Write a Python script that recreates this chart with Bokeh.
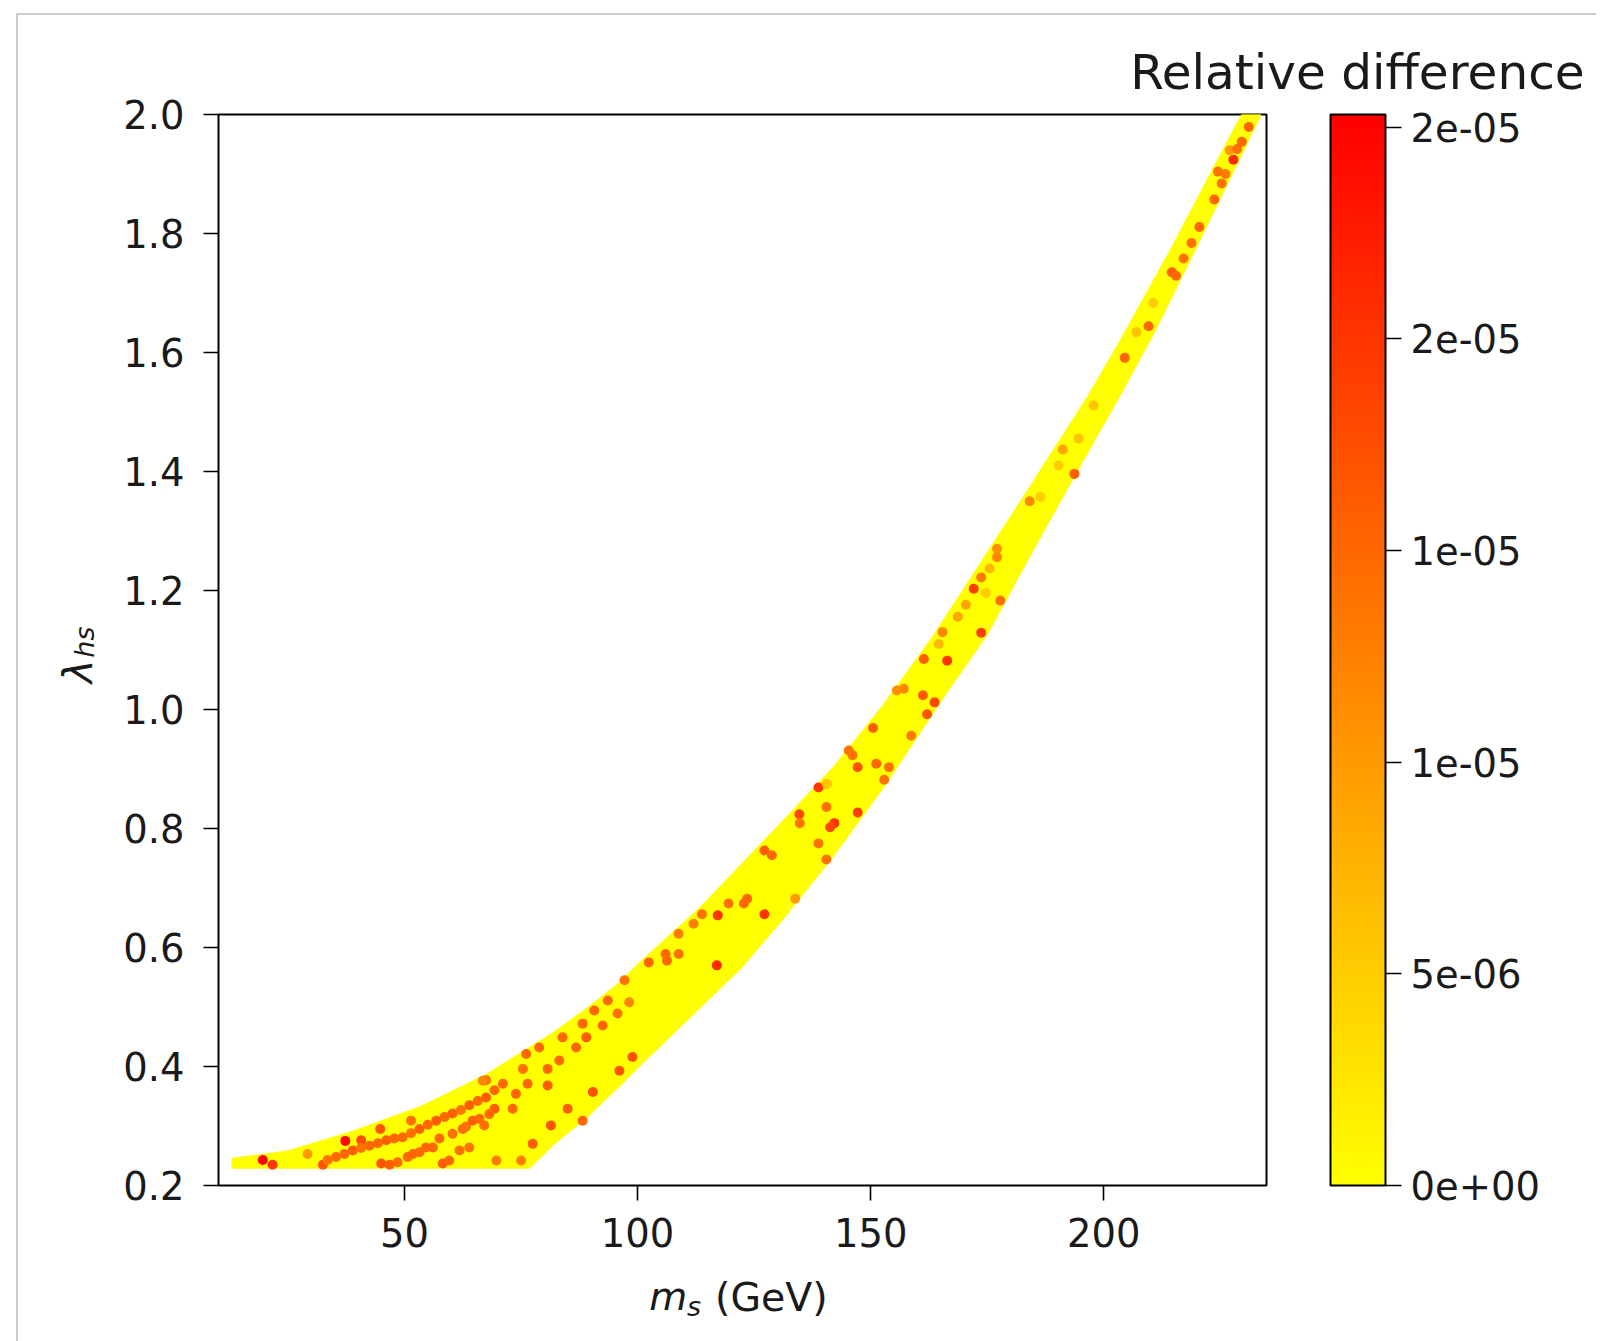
import math
from bokeh.plotting import figure
from bokeh.models import (LinearColorMapper, ColorBar, FixedTicker, PrintfTickFormatter,
                          CustomJSTickFormatter, Label, Range1d, ColumnDataSource)
from bokeh.transform import linear_cmap
from bokeh.embed import file_html
from bokeh.resources import INLINE

# ---------------- data ----------------
# outline of the densely filled (value ~ 0) region of the scan
upper_ms = [13.1, 24.7, 38.8, 53.2, 67.6, 81.7, 89.0, 96.1, 100.4, 113.5, 130.0,
            142.0, 152.7, 163.4, 182.1, 196.5, 203.5, 214.3, 222.2, 229.7]
upper_lam = [0.245, 0.257, 0.290, 0.331, 0.386, 0.455, 0.496, 0.540, 0.573, 0.667, 0.802,
             0.902, 1.006, 1.122, 1.348, 1.524, 1.618, 1.771, 1.889, 2.0]
lower_ms = [13.1, 76.8, 81.7, 89.0, 96.1, 100.4, 111.0, 122.1, 131.3, 142.0, 152.8, 165.6,
            175.0, 185.7, 195.0, 203.5, 210.6, 219.2, 227.8, 233.6]
lower_lam = [0.230, 0.230, 0.268, 0.315, 0.368, 0.402, 0.482, 0.566, 0.650, 0.755, 0.871,
             1.022, 1.128, 1.282, 1.412, 1.530, 1.632, 1.768, 1.906, 2.0]

# points with a visible relative difference
dot_ms = [19.6, 37.3, 21.7, 32.5, 29.2, 40.7, 44.8, 51.4, 45.0, 46.8, 48.5, 50.7, 53.2, 56.1,
          58.2, 59.6, 61.8, 63.9, 62.5, 64.6, 67.1, 69.3, 73.2, 69.7, 75.0, 77.5, 81.4, 85.0,
          88.2, 90.4, 80.7, 76.4, 73.9, 75.4, 80.7, 83.2, 86.8, 89.0, 92.5, 95.7, 83.9, 88.2,
          90.7, 93.6, 97.2, 98.2, 96.1, 98.9, 35.3, 38.9, 42.5, 46.1, 49.6, 53.2, 56.8, 60.3,
          63.9, 67.5, 71.1, 67.5, 76.1, 78.9, 51.8, 54.6, 57.5, 60.3, 66.1,
          33.5, 37.1, 40.7, 44.3, 47.8, 51.4, 55.0, 58.6, 62.1, 65.7, 69.3, 63.2, 68.2, 66.8,
          161.4, 166.4, 164.6, 155.6, 157.1, 161.2, 163.7, 162.1, 150.5, 158.7, 145.3, 146.1,
          147.2, 151.2, 153.9, 152.9, 138.8, 140.6, 134.7, 134.8, 140.5, 142.2, 141.3, 147.2,
          138.8, 140.5, 127.2, 128.8, 133.8, 123.5, 122.8, 119.5, 117.2, 113.8, 127.2, 112.0,
          108.8, 108.8, 106.0, 106.3, 102.4, 117.0,
          197.8, 194.6, 191.2, 190.3, 193.7, 184.1, 186.4, 177.1, 177.1, 175.5, 173.7, 172.1,
          174.7, 177.8, 170.4, 168.7, 165.4, 173.7,
          231.1, 229.6, 227.8, 227.0, 228.6, 226.1, 224.5, 225.3, 223.7, 220.5, 218.8, 217.1,
          214.6, 215.5, 210.6, 209.6, 207.0, 204.5]
dot_lam = [0.243, 0.275, 0.235, 0.235, 0.253, 0.276, 0.295, 0.309, 0.237, 0.235, 0.239, 0.248,
           0.256, 0.264, 0.237, 0.242, 0.259, 0.264, 0.295, 0.309, 0.301, 0.329, 0.329, 0.242,
           0.242, 0.270, 0.301, 0.329, 0.309, 0.357, 0.368, 0.371, 0.354, 0.396, 0.396, 0.410,
           0.432, 0.449, 0.469, 0.489, 0.449, 0.472, 0.494, 0.511, 0.545, 0.508, 0.393, 0.416,
           0.248, 0.259, 0.267, 0.276, 0.281, 0.295, 0.309, 0.321, 0.335, 0.348, 0.371, 0.377,
           0.421, 0.432, 0.253, 0.264, 0.279, 0.287, 0.312,
           0.243, 0.253, 0.263, 0.271, 0.279, 0.288, 0.302, 0.315, 0.327, 0.342, 0.360, 0.299,
           0.320, 0.376,
           1.085, 1.082, 1.110, 1.032, 1.035, 1.024, 1.012, 0.992, 0.969, 0.956, 0.931, 0.923,
           0.903, 0.909, 0.903, 0.882, 0.869, 0.875, 0.824, 0.809, 0.836, 0.809, 0.802, 0.827,
           0.775, 0.748, 0.763, 0.755, 0.682, 0.682, 0.674, 0.674, 0.654, 0.656, 0.656, 0.640,
           0.623, 0.589, 0.589, 0.578, 0.575, 0.570,
           1.511, 1.455, 1.437, 1.410, 1.396, 1.350, 1.357, 1.270, 1.256, 1.237, 1.222, 1.203,
           1.196, 1.183, 1.176, 1.156, 1.130, 1.129,
           1.979, 1.954, 1.924, 1.940, 1.942, 1.900, 1.904, 1.884, 1.857, 1.811, 1.784, 1.758,
           1.735, 1.729, 1.683, 1.644, 1.634, 1.591]
dot_diff = [2.5e-5, 2.45e-5, 2.0e-5, 1.7e-5, 1.0e-5, 1.8e-5, 1.7e-5, 1.4e-5, 1.7e-5, 1.6e-5,
            1.5e-5, 1.5e-5, 1.5e-5, 1.5e-5, 1.6e-5, 1.5e-5, 1.4e-5, 1.4e-5, 1.5e-5, 1.6e-5,
            1.4e-5, 1.6e-5, 1.5e-5, 1.3e-5, 1.3e-5, 1.6e-5, 1.7e-5, 1.6e-5, 1.5e-5, 1.7e-5,
            1.6e-5, 1.5e-5, 1.5e-5, 1.4e-5, 1.5e-5, 1.5e-5, 1.5e-5, 1.6e-5, 1.5e-5, 1.4e-5,
            1.5e-5, 1.5e-5, 1.5e-5, 1.5e-5, 1.4e-5, 1.2e-5, 1.7e-5, 1.7e-5, 1.5e-5, 1.6e-5,
            1.5e-5, 1.6e-5, 1.5e-5, 1.6e-5, 1.6e-5, 1.6e-5, 1.6e-5, 1.6e-5, 1.5e-5, 1.4e-5,
            1.5e-5, 1.5e-5, 1.5e-5, 1.5e-5, 1.5e-5, 1.4e-5, 1.5e-5,
            1.4e-5, 1.5e-5, 1.4e-5, 1.5e-5, 1.5e-5, 1.4e-5, 1.5e-5, 1.5e-5, 1.4e-5, 1.5e-5,
            1.5e-5, 1.4e-5, 1.5e-5, 1.2e-5,
            1.6e-5, 2.0e-5, 7e-6, 1.1e-5, 1.2e-5, 1.6e-5, 1.8e-5, 1.7e-5, 1.6e-5, 1.3e-5,
            1.4e-5, 1.4e-5, 1.7e-5, 1.5e-5, 1.4e-5, 1.4e-5, 2.0e-5, 6e-6, 1.8e-5, 1.4e-5,
            1.4e-5, 2.0e-5, 1.8e-5, 1.9e-5, 1.4e-5, 1.4e-5, 1.6e-5, 1.5e-5, 1.0e-5, 1.5e-5,
            1.5e-5, 1.4e-5, 2.0e-5, 1.4e-5, 2.0e-5, 1.3e-5, 1.3e-5, 1.4e-5, 1.5e-5, 1.5e-5,
            1.5e-5, 2.1e-5,
            6e-6, 6e-6, 9e-6, 5e-6, 1.6e-5, 1.2e-5, 5e-6, 1.1e-5, 1.2e-5, 7e-6, 1.3e-5, 1.9e-5,
            5e-6, 1.4e-5, 9e-6, 9e-6, 1.2e-5, 1.9e-5,
            1.5e-5, 1.5e-5, 2.1e-5, 1.0e-5, 1.4e-5, 1.3e-5, 1.4e-5, 1.4e-5, 1.5e-5, 1.5e-5,
            1.4e-5, 1.4e-5, 1.6e-5, 1.5e-5, 5e-6, 1.5e-5, 6e-6, 1.5e-5]

x_ticks = [50, 100, 150, 200]
y_ticks = [0.2, 0.4, 0.6, 0.8, 1.0, 1.2, 1.4, 1.6, 1.8, 2.0]
cbar_ticks = [0.0, 5e-6, 1e-5, 1.5e-5, 2e-5, 2.5e-5]
cbar_tick_labels = ["0e+00", "5e-06", "1e-05", "1e-05", "2e-05", "2e-05"]
diff_min, diff_max = 0.0, 2.53e-5

# ---------------- styling ----------------
FONT = "DejaVu Sans"
TXT = "#1a1a1a"
TICK_FS = "38.5px"
# autumn_r colormap (yellow -> red)
palette = ["#ff%02x00" % (255 - i) for i in range(256)]
mapper = LinearColorMapper(palette=palette, low=diff_min, high=diff_max)

p = figure(frame_width=1048, frame_height=1071,
           x_range=Range1d(10.1, 234.9), y_range=Range1d(0.2, 2.0),
           output_backend="svg", toolbar_location=None,
           min_border_left=200, min_border_right=330,
           min_border_top=99, min_border_bottom=150)
p.styles = {"margin-left": "16px", "margin-top": "13px",
            "border-left": "2px solid #cccccc", "border-top": "2px solid #cccccc"}
p.background_fill_color = "white"
p.border_fill_color = "white"
p.grid.visible = False
p.outline_line_color = "black"
p.outline_line_width = 2
p.outline_line_alpha = 1.0

# filled band (points with value ~0)
band_x = upper_ms + lower_ms[::-1]
band_y = upper_lam + lower_lam[::-1]
p.patch(band_x, band_y, fill_color=palette[0], line_color=palette[0], line_width=2)

src = ColumnDataSource(dict(ms=dot_ms, lam=dot_lam, diff=dot_diff))
p.scatter("ms", "lam", source=src, size=10,
          fill_color=linear_cmap("diff", palette, diff_min, diff_max),
          line_color=None)

for ax in (p.xaxis[0], p.yaxis[0]):
    ax.axis_line_color = None
    ax.major_tick_out = 15
    ax.major_tick_in = 0
    ax.major_tick_line_color = "black"
    ax.major_tick_line_width = 1.6
    ax.minor_tick_line_color = None
    ax.major_label_text_font = FONT
    ax.major_label_text_font_size = TICK_FS
    ax.major_label_text_color = TXT
p.xaxis.ticker = FixedTicker(ticks=x_ticks)
p.yaxis.ticker = FixedTicker(ticks=y_ticks)
p.yaxis.formatter = PrintfTickFormatter(format="%.1f")
p.xaxis.major_label_standoff = 17
p.yaxis.major_label_standoff = 19

cb = ColorBar(color_mapper=mapper, width=55, height=1071, padding=0, margin=0,
              location=(64, 0),
              ticker=FixedTicker(ticks=cbar_ticks),
              formatter=CustomJSTickFormatter(args=dict(labels=cbar_tick_labels),
                                              code="return labels[index];"),
              major_tick_out=16, major_tick_in=0,
              major_tick_line_color="black", major_tick_line_width=1.6,
              minor_tick_line_color=None,
              bar_line_color="black", bar_line_width=2,
              label_standoff=9,
              major_label_text_font=FONT, major_label_text_font_size=TICK_FS,
              major_label_text_color=TXT,
              background_fill_alpha=0, border_line_color=None)
p.add_layout(cb, "right")

# axis labels and colorbar title, placed in the side panels (data coordinates)
lab = dict(text_font=FONT, text_color=TXT, text_baseline="alphabetic")
p.add_layout(Label(x=102.5, y=0.013, text="m", text_font_size="39px",
                   text_font_style="italic", **lab), "below")
p.add_layout(Label(x=110.6, y=-0.004, text="s", text_font_size="27px",
                   text_font_style="italic", **lab), "below")
p.add_layout(Label(x=116.6, y=0.013, text="(GeV)", text_font_size="39.5px", **lab), "below")
p.add_layout(Label(x=-20.1, y=1.044, text="λ", text_font_size="40px", angle=math.pi / 2,
                   text_font_style="italic", **lab), "left")
p.add_layout(Label(x=-18.6, y=1.087, text="hs", text_font_size="27px", angle=math.pi / 2,
                   text_font_style="italic", **lab), "left")
p.add_layout(Label(x=254.4, y=2.072, text="Relative difference", text_font_size="48.5px",
                   text_align="center", **lab), "above")

open("out.html", "w").write(file_html(p, INLINE))
